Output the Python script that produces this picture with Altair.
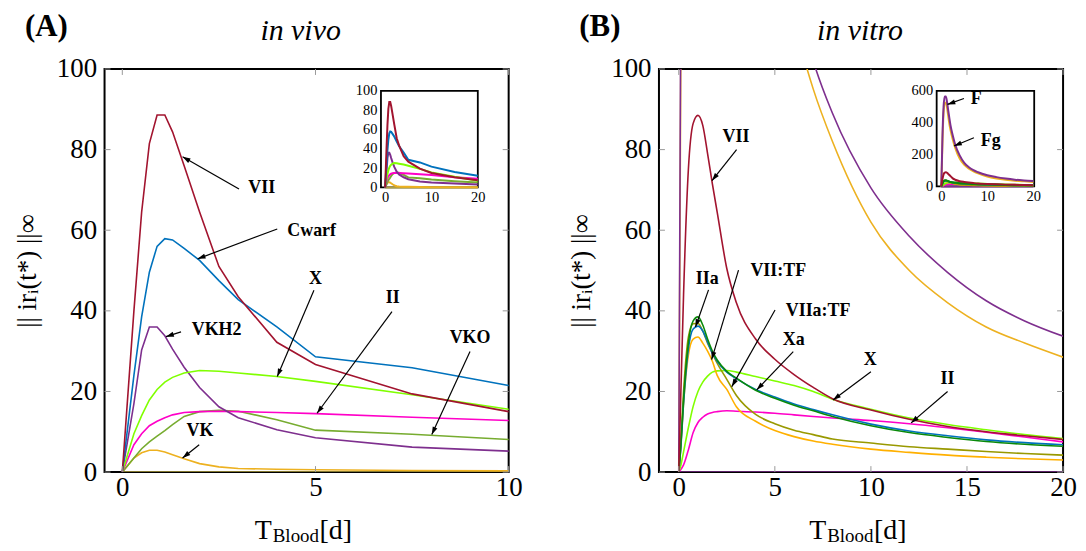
import math
import altair as alt
import pandas as pd

FONT = "Liberation Serif"
W, H = 406, 405
YTITLE = "|| irᵢ(t*) ||∞"
XTITLE_PARTS = ["T", "Blood", "[d]"]

# ---------------- (A) in vivo ----------------
t_vivo = [0, 0.3, 0.5, 0.7, 0.9, 1.1, 1.3, 1.6, 2, 2.5, 3, 4, 5, 7.5, 10, 15, 20]
vivo_VII   = [0, 40, 64.5, 81.5, 88.6, 88.6, 84.4, 76, 64.5, 51, 43.5, 32.2, 26.7, 19.4, 15.0, 10.5, 7.5]
vivo_Cwarf = [0, 24, 38.5, 49.6, 56, 57.9, 57.6, 55.5, 52.5, 47.5, 42.8, 36, 28.6, 25.9, 21.5, 16, 12]
vivo_X     = [0, 9.5, 14, 17.9, 20.5, 22.3, 23.5, 24.6, 25.2, 25.0, 24.6, 23.7, 22.5, 19.2, 15.6, 11, 7]
vivo_VKH2  = [0, 17, 30.3, 36, 36, 33.8, 30.5, 26, 21, 16.2, 13.5, 10.5, 8.5, 6.2, 5.2, 4, 3]
vivo_II    = [0, 6.8, 9.5, 11.5, 12.6, 13.5, 14.2, 14.8, 15.0, 15.1, 15.0, 14.8, 14.5, 13.6, 12.8, 10.5, 9]
vivo_VKO   = [0, 3.5, 5.8, 7.5, 8.9, 10.3, 11.8, 13.8, 15, 15.3, 15.1, 13, 10.4, 9.4, 8.1, 6.5, 5]
vivo_VK    = [0, 3.5, 4.8, 5.4, 5.4, 5.0, 4.3, 3.3, 2.1, 1.3, 0.9, 0.7, 0.6, 0.4, 0.3, 0.2, 0.1]
vivo_zero  = [0, 0, 0, 0, 0, 0, 0, 0, 0, 0, 0, 0, 0, 0, 0, 0, 0]

vivo_names  = ["zero", "VK", "VKO", "II", "VKH2", "X", "Cwarf", "VII"]
vivo_values = [vivo_zero, vivo_VK, vivo_VKO, vivo_II, vivo_VKH2, vivo_X, vivo_Cwarf, vivo_VII]
vivo_colors = ["#b0a040", "#edb120", "#77ac30", "#ff00c8", "#7e2f8e", "#80ff00", "#0072bd", "#a2142f"]

vivo_xdom, vivo_xticks = [-0.46, 10], [0, 5, 10]
main_ydom, main_yticks = [0, 100], [0, 20, 40, 60, 80, 100]

annA_labels = ["VII", "Cwarf", "X", "VKH2", "VK", "II", "VKO"]
annA_tx = [3.61, 4.90, 5.0, 2.44, 2.01, 7.0, 9.0]
annA_ty = [70.4, 59.9, 48.0, 35.2, 10.1, 43.2, 33.2]
annA_sx = [3.02, 4.01, 4.96, 1.52, 1.99, 6.98, 9.0]
annA_sy = [70.2, 60.3, 45.1, 34.8, 6.8, 39.8, 29.9]
annA_ex = [1.56, 1.95, 4.01, 1.13, 1.56, 5.04, 8.01]
annA_ey = [78.2, 52.9, 23.7, 33.6, 3.5, 14.6, 9.3]

insA_xdom, insA_xrange = [-0.9, 20], [277.7, 375]
insA_ydom, insA_yrange = [0, 100], [119, 22]
insA_xticks, insA_yticks = [0, 10, 20], [0, 20, 40, 60, 80, 100]

# ---------------- (B) in vitro ----------------
t_vitro = [0, 0.1, 0.25, 0.5, 0.75, 1, 1.25, 1.5, 1.75, 2, 2.5, 3, 4, 5, 6, 7, 8, 10, 12, 14, 16, 18, 20]
vitro_F     = [0, 110, 300, 500, 565, 565, 530, 480, 430, 385, 320, 265, 195, 148, 121, 102, 89, 70.5, 58.5, 49.5, 42.5, 37.5, 33.7]
vitro_Fg    = [0, 95, 270, 460, 525, 525, 495, 445, 395, 355, 295, 245, 175, 135, 112, 95, 82, 62, 50, 42, 36, 32, 28.5]
vitro_VII   = [0, 18, 44, 75, 86.5, 88.5, 86, 79, 71.5, 64.5, 50.5, 42, 33, 28, 24.2, 21, 18.2, 15.4, 13.1, 11.3, 10.0, 9.0, 8.1]
vitro_Xa    = [0, 6, 18, 32, 37.5, 38.5, 36.5, 33, 30, 27.8, 25, 23.3, 20.3, 18.3, 16.6, 15.2, 13.8, 11.5, 9.8, 8.6, 7.6, 6.9, 6.4]
vitro_IIa   = [0, 5.5, 17, 30.5, 35.5, 36.2, 35, 32.3, 29.5, 27.5, 24.8, 23.2, 20.5, 18.6, 16.9, 15.5, 14.2, 11.9, 10.2, 9.0, 8.0, 7.3, 6.8]
vitro_VIIaTF = [0, 7, 20, 33.5, 36.8, 36.9, 35, 32, 29.5, 27, 23, 19, 14.3, 12, 10.4, 9.3, 8.2, 7.2, 6.3, 5.7, 5.1, 4.6, 4.2]
vitro_VIITF = [0, 6, 17, 29, 33, 33.5, 32, 30, 27.5, 24, 20.5, 16.2, 12.6, 10.3, 8.8, 7.7, 6.9, 5.7, 4.9, 4.2, 3.7, 3.3, 3.0]
vitro_X     = [0, 1.5, 5, 11, 16.3, 20, 22.3, 23.8, 24.8, 25.1, 25.2, 24.8, 23.7, 22.6, 21.5, 20, 18.1, 15.6, 13.4, 11.8, 10.5, 9.3, 8.3]
vitro_II    = [0, 0.6, 1.8, 5.5, 9.8, 12.3, 13.6, 14.4, 14.8, 15.0, 15.2, 15.1, 14.9, 14.6, 14.2, 13.8, 13.4, 12.8, 12.0, 11.0, 9.9, 8.7, 7.5]
vitro_zero  = [0, 0, 0, 0, 0, 0, 0, 0, 0, 0, 0, 0, 0, 0, 0, 0, 0, 0, 0, 0, 0, 0, 0]

vitro_names  = ["zero", "Fg", "F", "II", "X", "VII:TF", "VIIa:TF", "IIa", "Xa", "VII"]
vitro_values = [vitro_zero, vitro_Fg, vitro_F, vitro_II, vitro_X, vitro_VIITF, vitro_VIIaTF, vitro_IIa, vitro_Xa, vitro_VII]
vitro_colors = ["#7e2f8e", "#edb120", "#7e2f8e", "#ff00c8", "#80ff00", "#ffb000", "#999900", "#0072bd", "#0a8a0a", "#a2142f"]

vitro_xdom, vitro_xticks = [-1.03, 20], [0, 5, 10, 15, 20]

annB_labels = ["VII", "IIa", "VII:TF", "VIIa:TF", "Xa", "X", "II"]
annB_tx = [2.98, 1.48, 5.18, 7.25, 5.98, 9.97, 13.99]
annB_ty = [83.2, 47.9, 50.0, 40.0, 32.8, 27.9, 23.1]
annB_sx = [3.01, 1.55, 3.11, 5.01, 5.96, 10.0, 13.99]
annB_sy = [80.0, 45.2, 50.1, 40.2, 29.9, 24.9, 20.0]
annB_ex = [1.73, 0.87, 1.71, 2.76, 4.06, 8.03, 12.09]
annB_ey = [72.3, 36.0, 27.9, 21.2, 20.4, 17.9, 12.2]

insB_xdom, insB_xrange = [-1, 20.2], [279, 377]
insB_ydom, insB_yrange = [0, 600], [118, 22]
insB_xticks, insB_yticks = [0, 10, 20], [0, 200, 400, 600]

insB_labels = ["F", "Fg"]
insB_tx = [7.6, 10.76]
insB_ty = [550, 284]
insB_sx = [4.93, 7.1]
insB_sy = [552, 306]
insB_ex = [1.35, 2.76]
insB_ey = [515, 254]

ARROW = "M0,0L0.32,1L-0.32,1Z"


def long_df(t, names, values, colors):
    rows = []
    for n, vals, c in zip(names, values, colors):
        for ti, vi in zip(t, vals):
            rows.append({"t": ti, "v": vi, "s": n, "c": c})
    return pd.DataFrame(rows)


def ann_df(labels, tx, ty, sx, sy, ex, ey, xdom, ydom, wpx, hpx):
    kx = wpx / (xdom[1] - xdom[0])
    ky = hpx / (ydom[1] - ydom[0])
    rows = []
    for i in range(len(labels)):
        dx = (ex[i] - sx[i]) * kx
        dy = -(ey[i] - sy[i]) * ky
        ang = math.degrees(math.atan2(dx, -dy)) % 360
        rows.append({"lab": labels[i], "t": tx[i], "v": ty[i], "t1": sx[i], "v1": sy[i],
                     "t2": ex[i], "v2": ey[i], "ang": ang})
    return pd.DataFrame(rows)


def arrows(df, X, Y, fs):
    rule = alt.Chart(df).mark_rule(color="black", strokeWidth=1.2).encode(
        x=X("t1:Q"), y=Y("v1:Q"), x2="t2:Q", y2="v2:Q")
    head = alt.Chart(df).mark_point(shape=ARROW, filled=True, color="black", size=250,
                                    opacity=1, strokeWidth=0).encode(
        x=X("t2:Q"), y=Y("v2:Q"), angle=alt.Angle("ang:Q", scale=None))
    text = alt.Chart(df).mark_text(font=FONT, fontSize=fs, fontWeight="bold", color="black").encode(
        x=X("t:Q"), y=Y("v:Q"), text="lab:N")
    return [rule, head, text]


def panel(df, interp, xdom, xticks, ann, ins_xdom, ins_xrange, ins_ydom, ins_yrange,
          ins_xticks, ins_yticks, ins_ann, letter, title, title_x):
    xs = alt.Scale(domain=xdom, nice=False, zero=False)
    ys = alt.Scale(domain=main_ydom, nice=False, zero=False)
    xax = alt.Axis(values=xticks, title=None, labelFont=FONT, labelFontSize=27, labelColor="black",
                   labelPadding=3, labelFlush=False, domain=False, ticks=False, grid=False)
    yax = alt.Axis(values=main_yticks, title=YTITLE, labelFont=FONT, labelFontSize=27, labelColor="black",
                   labelPadding=8, labelFlush=False, domain=False, ticks=False, grid=False,
                   titleFont=FONT, titleFontSize=27, titleFontWeight="normal", titleColor="black",
                   titlePadding=15)

    def X(f):
        return alt.X(f, scale=xs, axis=xax)

    def Y(f):
        return alt.Y(f, scale=ys, axis=yax)

    lines = alt.Chart(df).mark_line(clip=True, strokeWidth=1.6, interpolate=interp).encode(
        x=X("t:Q"), y=Y("v:Q"), color=alt.Color("c:N", scale=None), detail="s:N")

    xt = pd.DataFrame({"t": xticks})
    yt = pd.DataFrame({"v": main_yticks})
    tick_col = "#999999"
    tb = alt.Chart(xt).mark_rule(color=tick_col).encode(x=X("t:Q"), y=alt.value(H), y2=alt.value(H - 6))
    tt = alt.Chart(xt).mark_rule(color=tick_col).encode(x=X("t:Q"), y=alt.value(0), y2=alt.value(6))
    tl = alt.Chart(yt).mark_rule(color=tick_col).encode(y=Y("v:Q"), x=alt.value(0), x2=alt.value(6))
    tr = alt.Chart(yt).mark_rule(color=tick_col).encode(y=Y("v:Q"), x=alt.value(W - 6), x2=alt.value(W))

    lab = alt.Chart(pd.DataFrame({"s": [letter]})).mark_text(
        font=FONT, fontSize=31, fontWeight="bold", align="left", color="black").encode(
        x=alt.value(-80), y=alt.value(-42), text="s:N")
    ttl = alt.Chart(pd.DataFrame({"s": [title]})).mark_text(
        font=FONT, fontSize=30, fontStyle="italic", align="center", color="black").encode(
        x=alt.value(title_x), y=alt.value(-38), text="s:N")
    xt1 = alt.Chart(pd.DataFrame({"s": [XTITLE_PARTS[0]]})).mark_text(
        font=FONT, fontSize=28, align="left", color="black").encode(
        x=alt.value(151), y=alt.value(H + 59), text="s:N")
    xt2 = alt.Chart(pd.DataFrame({"s": [XTITLE_PARTS[1]]})).mark_text(
        font=FONT, fontSize=19, align="left", color="black").encode(
        x=alt.value(169), y=alt.value(H + 64), text="s:N")
    xt3 = alt.Chart(pd.DataFrame({"s": [XTITLE_PARTS[2]]})).mark_text(
        font=FONT, fontSize=28, align="left", color="black").encode(
        x=alt.value(216), y=alt.value(H + 59), text="s:N")

    main = alt.layer(lines, tb, tt, tl, tr, *arrows(ann, X, Y, 18), lab, ttl, xt1, xt2, xt3)

    ixs = alt.Scale(domain=ins_xdom, range=ins_xrange, nice=False, zero=False)
    iys = alt.Scale(domain=ins_ydom, range=ins_yrange, nice=False, zero=False)
    ixax = alt.Axis(values=ins_xticks, orient="bottom", offset=-(H - ins_yrange[0]), title=None,
                    labelFont=FONT, labelFontSize=14.5, labelColor="black", labelPadding=3,
                    labelFlush=False, domain=False, ticks=False, grid=False)
    iyax = alt.Axis(values=ins_yticks, orient="left", offset=-ins_xrange[0], title=None,
                    labelFont=FONT, labelFontSize=14.5, labelColor="black", labelPadding=4,
                    labelFlush=False, domain=False, ticks=False, grid=False)

    def IX(f):
        return alt.X(f, scale=ixs, axis=ixax)

    def IY(f):
        return alt.Y(f, scale=iys, axis=iyax)

    frame_df = pd.DataFrame({"t": [ins_xdom[0]], "t2": [ins_xdom[1]], "v": [ins_ydom[0]], "v2": [ins_ydom[1]]})
    frame = alt.Chart(frame_df).mark_rect(fill="white", stroke="black", strokeWidth=1.8).encode(
        x=IX("t:Q"), x2="t2:Q", y=IY("v:Q"), y2="v2:Q")
    ilines = alt.Chart(df).mark_line(strokeWidth=2, interpolate=interp).encode(
        x=IX("t:Q"), y=IY("v:Q"), color=alt.Color("c:N", scale=None), detail="s:N")
    ins_layers = [frame, ilines]
    if ins_ann is not None:
        ins_layers += arrows(ins_ann, IX, IY, 18)
    inset = alt.layer(*ins_layers)

    return alt.layer(main, inset).resolve_scale(x="independent", y="independent").properties(
        width=W, height=H)


dfA = long_df(t_vivo, vivo_names, vivo_values, vivo_colors)
dfB = long_df(t_vitro, vitro_names, vitro_values, vitro_colors)

annA = ann_df(annA_labels, annA_tx, annA_ty, annA_sx, annA_sy, annA_ex, annA_ey,
              vivo_xdom, main_ydom, W, H)
annB = ann_df(annB_labels, annB_tx, annB_ty, annB_sx, annB_sy, annB_ex, annB_ey,
              vitro_xdom, main_ydom, W, H)
insAnnB = ann_df(insB_labels, insB_tx, insB_ty, insB_sx, insB_sy, insB_ex, insB_ey,
                 insB_xdom, insB_ydom, insB_xrange[1] - insB_xrange[0], insB_yrange[0] - insB_yrange[1])

pA = panel(dfA, "linear", vivo_xdom, vivo_xticks, annA, insA_xdom, insA_xrange, insA_ydom, insA_yrange,
           insA_xticks, insA_yticks, None, "(A)", "in vivo", 197)
pB = panel(dfB, "monotone", vitro_xdom, vitro_xticks, annB, insB_xdom, insB_xrange, insB_ydom, insB_yrange,
           insB_xticks, insB_yticks, insAnnB, "(B)", "in vitro", 202)

chart = alt.hconcat(pA, pB, spacing=151, bounds="flush").configure_view(
    stroke="black", strokeWidth=2).properties(padding={"left": 4, "top": 1, "right": 0, "bottom": 0},
                                              background="white")

chart.save("out.html", embed_options={"renderer": "svg", "actions": False})
